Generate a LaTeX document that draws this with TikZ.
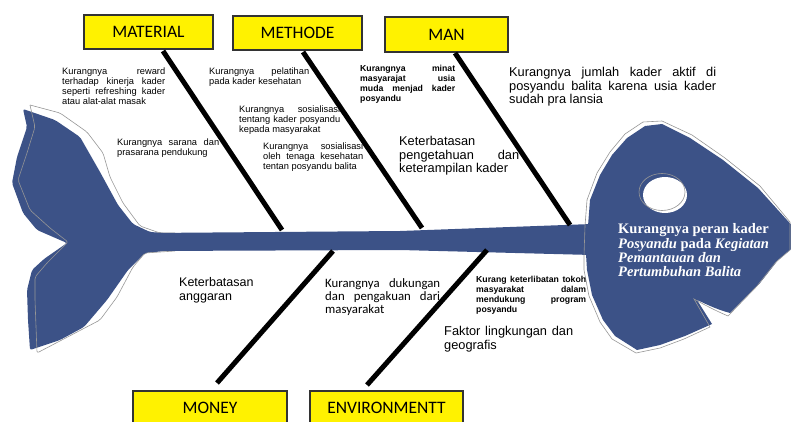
\documentclass[tikz,border=0pt]{standalone}
\usepackage{fontspec}
\setmainfont{Liberation Sans}
\newfontfamily\calib{Carlito}
\newfontfamily\tnr{Liberation Serif}
\definecolor{fishblue}{RGB}{60,82,135}
\definecolor{outl}{RGB}{150,150,150}
\begin{document}
\begin{tikzpicture}[x=1pt,y=-1pt,
  catbox/.style={draw=black!80, line width=1.3pt, fill=yellow, minimum width=#1, minimum height=34pt, inner sep=0pt, font=\calib\fontsize{17.5}{20}\selectfont},
  bone/.style={line width=5pt, black},
  txt/.style={anchor=north west, inner sep=0pt, align=justify},
  small/.style={font=\fontsize{9.3}{10}\selectfont},
  tiny/.style={font=\bfseries\fontsize{8.7}{10}\selectfont},
  mid/.style={font=\fontsize{12.8}{13.5}\selectfont},
  grayedge/.style={draw=outl, line width=0.6pt}
]
\useasboundingbox (0,0) rectangle (791,422);
\begin{scope}
\clip (0,0) rectangle (791,422);

% tail
\fill[fishblue, rounded corners=2pt]
 (23,109) -- (55,120) -- (80,137) -- (100,172) -- (118,205) -- (133,224) -- (150,232) -- (165,233)
 -- (165,251) -- (145,253) -- (128,270) -- (107,300) -- (84,327) -- (60,340) -- (30,350)
 -- (28,320) -- (27,290) -- (32,270) -- (44,259) -- (67,243) -- (37,230) -- (23,213)
 -- (12,183) -- (17,157) -- (27,127) -- cycle;
\draw[grayedge, rounded corners=2pt]
 (30,105) -- (60,113) -- (87,132) -- (103,153) -- (110,177) -- (123,203) -- (140,226) -- (160,233) -- (175,233);
\draw[grayedge, rounded corners=2pt]
 (175,251) -- (145,253) -- (133,267) -- (117,297) -- (100,320) -- (37,353)
 -- (35,300) -- (35,277) -- (47,263) -- (68,242) -- (50,228) -- (30,210)
 -- (18,180) -- (27,153) -- (35,127) -- (30,105);

% spine
\fill[fishblue] (150,233) -- (400,231) -- (592,224) -- (592,255) -- (400,250) -- (150,251) -- cycle;

% head
\fill[fishblue]
 (588,226) -- (590,200) -- (600,175) -- (612,155) -- (627,138) -- (645,126) -- (662,124)
 -- (690,138) -- (723,160) -- (758,188) -- (796,230) -- (796,245) -- (778,260) -- (760,283)
 -- (730,313) .. controls (715,309) and (704,303) .. (697,300) -- (712,324) -- (685,336)
 -- (660,345) -- (637,350) -- (615,336) -- (603,320) -- (592,295) -- (587,270) -- (586,254) -- cycle;
\draw[grayedge]
 (584,256) -- (585,226) -- (587,200) -- (597,173) -- (610,152) -- (625,134) -- (643,122) -- (662,121)
 -- (692,135) -- (725,158) -- (760,186) -- (790,222) -- (790,250) -- (776,262) -- (757,286)
 -- (728,316) .. controls (714,310) and (703,304) .. (694,299) -- (710,327) -- (684,339)
 -- (660,348) -- (636,353) -- (612,339) -- (600,322) -- (589,296) -- (584,270) -- cycle;
% eye
\fill[white] (665,195) ellipse [x radius=22, y radius=18];
\draw[grayedge] (662,192) ellipse [x radius=23, y radius=18.5];
\end{scope}

% head text
\node[anchor=north west, inner sep=0pt, align=left, text=white,
      font=\tnr\bfseries\fontsize{14.5}{14.4}\selectfont] (effect) at (618,223.5)
 {Kurangnya peran kader\\\textit{Posyandu} pada \textit{Kegiatan}\\\textit{Pemantauan dan}\\\textit{Pertumbuhan Balita}};

% category boxes
\begin{scope}
\clip (0,0) rectangle (791,422);
\node[catbox=129pt] (mat) at (148.5,32) {MATERIAL};
\node[catbox=129pt] (met) at (297.5,33) {METHODE};
\node[catbox=123pt, minimum height=35pt] (man) at (446.5,34.5) {MAN};
\node[catbox=154pt] (mon) at (210,408) {MONEY};
\node[catbox=153pt] (env) at (386.5,408) {ENVIRONMENTT};
\end{scope}

% bone end points
\coordinate (matT) at (163,51);  \coordinate (matB) at (282,230);
\coordinate (metT) at (303,52);  \coordinate (metB) at (422,228);
\coordinate (manT) at (455,53);  \coordinate (manB) at (570,225);
\coordinate (monT) at (333,251); \coordinate (monB) at (217,383);
\coordinate (envT) at (487,250); \coordinate (envB) at (367,385);
\draw[bone] (matT) -- (matB);
\draw[bone] (metT) -- (metB);
\draw[bone] (manT) -- (manB);
\draw[bone] (monT) -- (monB);
\draw[bone] (envT) -- (envB);

% cause texts
\node[txt, small, text width=103pt] (t1) at (62,68)
 {Kurangnya reward\linebreak terhadap kinerja kader\linebreak seperti refreshing kader\linebreak atau alat-alat masak};
\node[txt, small, text width=100pt] (t2) at (209,68)
 {Kurangnya pelatihan\linebreak pada kader kesehatan};
\node[txt, small, text width=101pt] (t3) at (239,106)
 {Kurangnya sosialisasi\linebreak tentang kader posyandu\linebreak kepada masyarakat};
\node[txt, small, text width=102pt] (t4) at (117,139)
 {Kurangnya sarana dan\linebreak prasarana pendukung};
\node[txt, small, text width=100pt] (t5) at (263,143)
 {Kurangnya sosialisasi\linebreak oleh tenaga kesehatan\linebreak tentan posyandu balita};
\node[txt, tiny, text width=95pt] (t6) at (360,65.2)
 {Kurangnya minat\linebreak masyarajat usia\linebreak muda menjad kader\linebreak posyandu};
\node[txt, mid, text width=207pt] (t7) at (509,67.5)
 {Kurangnya jumlah kader aktif di\linebreak posyandu balita karena usia kader\linebreak sudah pra lansia};
\node[txt, mid, text width=120pt] (t8) at (399,136.5)
 {Keterbatasan\linebreak pengetahuan dan\linebreak keterampilan kader};
\node[txt, align=left, font=\fontsize{12.5}{14}\selectfont] (t9) at (179,277.5)
 {Keterbatasan\\anggaran};
\node[txt, text width=115pt, font=\calib\fontsize{12.8}{13}\selectfont] (t10) at (325,278.5)
 {Kurangnya dukungan\linebreak dan pengakuan dari\linebreak masyarakat};
\node[txt, tiny, text width=110pt] (t11) at (476,276.2)
 {Kurang keterlibatan tokoh\linebreak masyarakat dalam\linebreak mendukung program\linebreak posyandu};
\node[txt, text width=129pt, font=\fontsize{12.8}{14}\selectfont] (t12) at (444,326.5)
 {Faktor lingkungan dan\linebreak geografis};
\end{tikzpicture}
\end{document}
